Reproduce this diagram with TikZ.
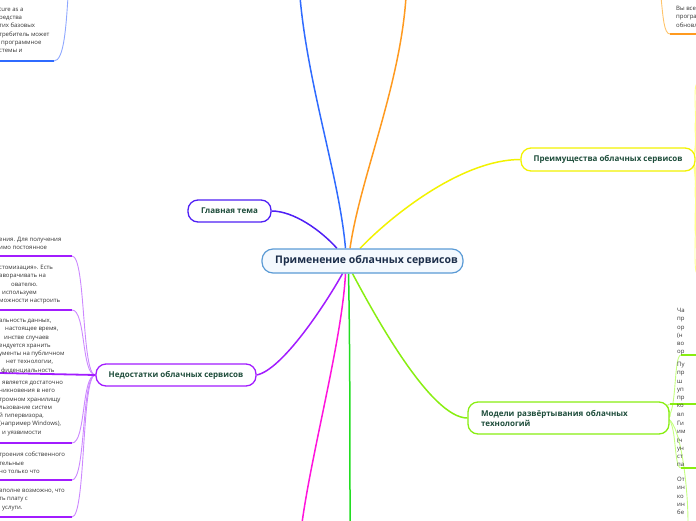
\documentclass[tikz,border=0pt]{standalone}
\usepackage{fontspec}
\setmainfont{Open Sans}
\pgfdeclarelayer{bg}\pgfsetlayers{bg,main}
\definecolor{cblue}{HTML}{5B9BD5}
\definecolor{cfill}{HTML}{F4F9FE}
\definecolor{ttl}{HTML}{1C2E4A}
\definecolor{tgreen}{HTML}{1E4D3B}
\definecolor{indig}{HTML}{4F1FF5}
\definecolor{bblue}{HTML}{2F6BFF}
\definecolor{bbluel}{HTML}{8FA8FF}
\definecolor{orng}{HTML}{FF9A1F}
\definecolor{orngl}{HTML}{FFC46B}
\definecolor{yel}{HTML}{F2F200}
\definecolor{yell}{HTML}{FFFF8A}
\definecolor{purp}{HTML}{A21CFF}
\definecolor{purpl}{HTML}{CC88FF}
\definecolor{mag}{HTML}{FF14DC}
\definecolor{grn}{HTML}{22DD22}
\definecolor{limec}{HTML}{88EE11}
\definecolor{limel}{HTML}{C4FF80}
\definecolor{notec}{HTML}{333333}
\tikzset{
  centre/.style={draw=cblue, fill=cfill, line width=1.2pt, rounded corners=11pt,
    minimum width=201pt, minimum height=24pt, inner sep=0pt, text=ttl,
    font=\bfseries\fontsize{10.5}{12}\selectfont},
  topic/.style={fill=white, line width=1.3pt, rounded corners=10pt, inner sep=0pt,
    text=tgreen, font=\bfseries\fontsize{8}{10}\selectfont},
  note/.style={anchor=north west, inner sep=0pt, align=left, text=notec,
    font=\fontsize{6}{8.3}\selectfont},
  mainline/.style={line width=1.5pt},
  subline/.style={line width=0.9pt},
  underl/.style={line width=1.8pt}
}
\begin{document}
\begin{tikzpicture}[x=1pt,y=-1pt]
\useasboundingbox (0,0) rectangle (696,520);
% main nodes
\node[centre] (c) at (362.5,261) {\hspace*{8pt}Применение облачных сервисов};
\node[topic, draw=indig, minimum width=83pt, minimum height=22pt] (mt) at (229.5,211) {Главная тема};
\node[topic, draw=yel, minimum width=174pt, minimum height=23pt] (pr) at (608,159.5) {Преимущества облачных сервисов};
\node[topic, draw=purp, minimum width=160pt, minimum height=22pt] (nd) at (176,375) {Недостатки облачных сервисов};
\node[topic, draw=limec, minimum width=201pt, minimum height=32pt, text width=175pt, align=left] (md) at (568.5,418) {Модели развёртывания облачных\\технологий};
% off-canvas ends
\coordinate (bTop) at (300,-3);
\coordinate (oTop) at (406,-3);
\coordinate (mBot) at (302,523);
\coordinate (gBot) at (350,523);
% left notes (purple)
\node[note] (p1) at (-1,237) {ения. Для получения\\имо постоянное};
\node[note] (p2) at (-1,265) {стомизация». Есть\\аворачивать на\\\hspace*{12pt}ователю.\\\hspace*{3pt}используем\\можности настроить};
\node[note] (p3) at (-1,319) {альность данных,\\\hspace*{6pt}настоящее время,\\\hspace*{5pt}инстве случаев\\ендуется хранить\\ументы на публичном\\\hspace*{7pt}нет технологии,\\\hspace*{2pt}фиденциальность};
\node[note] (p4) at (-1,381) {\hspace*{3pt}является достаточно\\никновения в него\\тромном хранилищу\\льзование систем\\й гипервизора,\\(например Windows),\\\hspace*{3pt}и уязвимости};
\node[note] (p5) at (-1,452) {троения собственного\\тельные\\но только что};
\node[note] (p6) at (-1,489) {вполне возможно, что\\ть плату с\\\hspace*{3pt}услуги.};
\coordinate (u1) at (72,256);
\coordinate (u2) at (72,310);
\coordinate (u4) at (72,443);
\coordinate (u5) at (72,480);
\coordinate (u6) at (72,517);
% top-left blue note
\node[note] (b1) at (-1,7) {ture as a\\редства\\тих базовых\\требитель может\\\hspace*{2pt}программное\\стемы и};
\coordinate (bu) at (54,61);
\coordinate (bt) at (68,-3);
% top-right orange note
\node[note] (o1) at (676,6) {Вы все\\програ\\обновл};
\coordinate (ou) at (670,34);
\coordinate (ot) at (661,-3);
% right lime notes
\node[note] (g1) at (677,308) {Ча\\пр\\ор\\(н\\во\\ор};
\node[note] (g2) at (677,362) {Пу\\пр\\ш\\уп\\пр\\ко\\вл};
\node[note] (g3) at (677,421) {Ги\\им\\(ч\\ун\\ст\\па};
\node[note] (g4) at (677,477) {От\\ин\\ко\\ин\\бе};
\coordinate (gu1) at (681,355);
\coordinate (gu2) at (670,404);
\coordinate (gu3) at (681,468);
\coordinate (gu4) at (688,523);
% right yellow ends
\coordinate (y1) at (697,84);
\coordinate (y2) at (697,120);
\coordinate (y3) at (697,200);
\coordinate (y4) at (697,237);
\coordinate (y5) at (697,273);
\begin{pgfonlayer}{bg}
\draw[indig, mainline] (mt.east) .. controls +(22,0) and +(-16,-18) .. ([xshift=-25.5pt]c.north);
\draw[bblue, mainline] ([xshift=-17pt]c.north) .. controls +(-6,-70) and +(8,90) .. (bTop);
\draw[orng, mainline] ([xshift=-12.5pt]c.north) .. controls +(10,-70) and +(-6,90) .. (oTop);
\draw[yel, mainline] ([xshift=-2.5pt]c.north) .. controls (392,215) and (462,159.5) .. (pr.west);
\draw[purp, mainline] ([xshift=-20pt]c.south) .. controls (325,305) and (282,370) .. (nd.east);
\draw[mag, mainline] ([xshift=-17pt]c.south) .. controls (342,340) and (312,450) .. (mBot);
\draw[grn, mainline] ([xshift=-14pt]c.south) .. controls (350,340) and (350,450) .. (gBot);
\draw[limec, mainline] ([xshift=-10pt]c.south) .. controls (372,310) and (430,418) .. (md.west);
% purple sub connectors
\foreach \u in {u1,u2,u4,u5,u6}
  \draw[purpl, subline] (nd.west) .. controls +(-14,0) and +(14,0) .. (\u);
\draw[purp, underl] (0,256) -- (u1);
\draw[purp, underl] (0,310) -- (u2);
\draw[purp, underl] (0,373) -- (nd.west);
\draw[purp, underl] (0,443) -- (u4);
\draw[purp, underl] (0,480) -- (u5);
\draw[purp, underl] (0,517) -- (u6);
% blue top-left
\draw[bbluel, subline] (bu) .. controls +(10,0) and +(-2,30) .. (bt);
\draw[bblue, underl] (0,61) -- (bu);
% orange top-right
\draw[orngl, subline] (ot) .. controls +(2,20) and +(-6,0) .. (ou);
\draw[orng, underl] (ou) -- (697,34);
% yellow thin
\foreach \e in {y1,y2,y3,y4,y5}
  \draw[yell, subline] ([xshift=-6pt]pr.east) .. controls +(12,0) and +(-6,0) .. (\e);
% lime thin
\foreach \e in {gu1,gu2,gu3}
  \draw[limel, subline] ([xshift=-4pt]md.east) .. controls +(12,0) and +(-8,0) .. (\e);
\draw[limel, subline] ([xshift=-4pt]md.east) .. controls +(14,0) and +(0,-40) .. (gu4);
\draw[limec, underl] (gu1) -- (697,355);
\draw[limec, underl] (gu2) -- (697,404);
\draw[limec, underl] (gu3) -- (697,468);
\end{pgfonlayer}
\end{tikzpicture}
\end{document}
